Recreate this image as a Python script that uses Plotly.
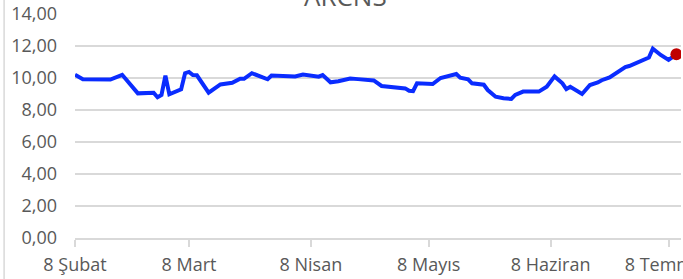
import plotly.graph_objects as go

dates = ["2024-02-08", "2024-02-10", "2024-02-17", "2024-02-20", "2024-02-24", "2024-02-28",
         "2024-02-29", "2024-03-01", "2024-03-02", "2024-03-03", "2024-03-06", "2024-03-07",
         "2024-03-08", "2024-03-09", "2024-03-10", "2024-03-13", "2024-03-16", "2024-03-19",
         "2024-03-21", "2024-03-22", "2024-03-24", "2024-03-28", "2024-03-29", "2024-03-30",
         "2024-04-04", "2024-04-06", "2024-04-10", "2024-04-11", "2024-04-13", "2024-04-15",
         "2024-04-18", "2024-04-20", "2024-04-24", "2024-04-26", "2024-05-02", "2024-05-03",
         "2024-05-04", "2024-05-05", "2024-05-08", "2024-05-09", "2024-05-11", "2024-05-13",
         "2024-05-15", "2024-05-16", "2024-05-18", "2024-05-19", "2024-05-22", "2024-05-23",
         "2024-05-25", "2024-05-27", "2024-05-29", "2024-05-30", "2024-06-01", "2024-06-05",
         "2024-06-06", "2024-06-07", "2024-06-09", "2024-06-11", "2024-06-12", "2024-06-13",
         "2024-06-16", "2024-06-18", "2024-06-20", "2024-06-21", "2024-06-23", "2024-06-27",
         "2024-06-28", "2024-07-03", "2024-07-04", "2024-07-06", "2024-07-08", "2024-07-09",
         "2024-07-10"]
prices = [10.20, 9.92, 9.90, 10.20, 9.04, 9.08,
          8.80, 8.94, 10.15, 8.98, 9.29, 10.30,
          10.38, 10.19, 10.17, 9.08, 9.60, 9.70,
          9.95, 9.95, 10.30, 9.92, 10.15, 10.15,
          10.10, 10.22, 10.08, 10.18, 9.73, 9.80,
          9.97, 9.93, 9.85, 9.50, 9.35, 9.20,
          9.18, 9.67, 9.67, 9.62, 10.00, 10.12,
          10.25, 10.02, 9.92, 9.67, 9.58, 9.25,
          8.83, 8.73, 8.69, 8.94, 9.15, 9.15,
          9.30, 9.46, 10.10, 9.67, 9.31, 9.45,
          9.00, 9.56, 9.72, 9.86, 10.04, 10.68,
          10.75, 11.28, 11.83, 11.44, 11.13, 11.30,
          11.48]

tick_dates = ["2024-02-08", "2024-03-08", "2024-04-08", "2024-05-08", "2024-06-08", "2024-07-08"]
tick_labels = ["8 Şubat", "8 Mart", "8 Nisan", "8 Mayıs", "8 Haziran", "8 Temmuz"]
y_ticks = [0, 2, 4, 6, 8, 10, 12, 14]
title_text = "ARCNS"

grey = "#595959"
grid = "#d9d9d9"

fig = go.Figure()
fig.add_trace(go.Scatter(x=dates, y=prices, mode="lines",
                         line=dict(color="#0a2cff", width=4), hoverinfo="skip"))
fig.add_trace(go.Scatter(x=[dates[-1]], y=[prices[-1]], mode="markers",
                         marker=dict(color="#c00000", size=12), hoverinfo="skip"))

fig.update_layout(
    width=683, height=279,
    margin=dict(l=75, r=2, t=14, b=41),
    paper_bgcolor="white", plot_bgcolor="white",
    showlegend=False,
    separators=",.",
    font=dict(family="Open Sans", size=18, color=grey),
    xaxis=dict(type="date", range=["2024-02-08", "2024-07-11 04:00"],
               tickvals=tick_dates, ticktext=tick_labels,
               showgrid=False, showline=True, linecolor=grid, linewidth=1.5,
               ticks="outside", ticklen=7, tickcolor=grid, tickwidth=1.5,
               ticklabelstandoff=3, ticklabeloverflow="allow",
               automargin=False, zeroline=False),
    yaxis=dict(range=[0, 14], tickvals=y_ticks, tickformat=".2f",
               showgrid=True, gridcolor=grid, gridwidth=1.5,
               showline=False, zeroline=False, ticks="",
               ticklabelstandoff=17, automargin=False),
    annotations=[dict(text=title_text, xref="paper", yref="paper", x=0.447, y=1.08,
                      xanchor="center", yanchor="middle", showarrow=False,
                      font=dict(family="Open Sans", size=26, color=grey))],
    shapes=[dict(type="line", xref="paper", yref="paper",
                 x0=-0.117, x1=-0.117, y0=-0.2, y1=1.1,
                 line=dict(color=grid, width=1.5))],
)

fig.write_html("out.html", config={"displayModeBar": False},
               post_script="document.body.style.margin='0';document.body.style.overflow='hidden';")
